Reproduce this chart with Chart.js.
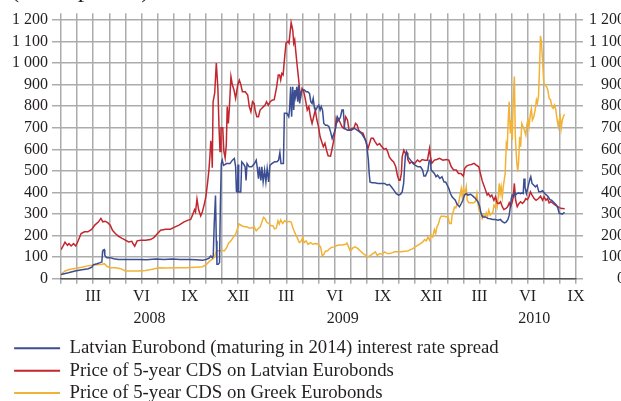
<!DOCTYPE html>
<html><head><meta charset="utf-8">
<script src="https://cdn.jsdelivr.net/npm/chart.js@4"></script>
<style>
html,body{margin:0;padding:0;background:#fff;overflow:hidden;width:621px;height:401px}
#wrap{position:absolute;left:0;top:-25px;width:625px;height:439px}
</style></head><body>
<div id="wrap"><canvas id="c"></canvas></div>
<script>
// time = months since 1 Jan 2008
const spreadT = [0,0.46,0.875,1.3,1.7,1.92,2.0,2.23,2.44,2.54,2.58,2.62,2.69,2.72,2.78,2.85,3.06,3.27,3.58,4.0,4.83,5.3,5.9,6.4,6.9,7.4,7.96,8.4,8.8,9.04,9.19,9.31,9.4,9.46,9.52,9.6,9.65,9.69,9.77,9.85,9.9,9.96,10.02,10.1,10.29,10.5,10.65,10.77,10.85,10.9,10.96,11.0,11.04,11.17,11.23,11.33,11.44,11.5,11.56,11.69,11.85,12.02,12.13,12.19,12.27,12.33,12.42,12.48,12.56,12.65,12.73,12.81,12.9,12.98,13.1,13.27,13.42,13.52,13.6,13.67,13.77,13.82,13.88,14.04,14.15,14.2,14.27,14.33,14.4,14.46,14.52,14.58,14.65,14.71,14.77,14.83,14.9,14.98,15.13,15.23,15.33,15.44,15.52,15.6,15.67,15.75,15.83,15.94,16.02,16.1,16.17,16.25,16.33,16.44,16.54,16.65,16.75,16.85,16.96,17.06,17.17,17.27,17.37,17.46,17.54,17.62,17.8,17.93,18.08,18.24,18.4,18.55,18.7,18.86,18.97,19.03,19.1,19.15,19.2,19.32,19.48,19.7,19.9,20.1,20.27,20.4,20.56,20.68,20.83,20.98,21.1,21.2,21.29,21.35,21.4,21.47,21.55,21.72,21.87,22.0,22.18,22.34,22.47,22.55,22.65,22.8,22.88,22.95,23.0,23.1,23.2,23.3,23.4,23.54,23.67,23.8,23.9,24.0,24.1,24.2,24.3,24.4,24.5,24.6,24.76,24.87,24.97,25.07,25.18,25.28,25.45,25.6,25.75,25.9,26.0,26.1,26.2,26.38,26.52,26.67,26.83,27.0,27.15,27.3,27.42,27.56,27.67,27.77,27.85,27.92,27.98,28.04,28.13,28.19,28.25,28.33,28.44,28.54,28.65,28.72,28.77,28.83,28.92,29.02,29.13,29.19,29.27,29.38,29.48,29.58,29.69,29.79,29.92,30.06,30.17,30.27,30.38,30.48,30.58,30.69,30.79,30.88,30.96,31.04,31.15,31.25,31.3];
const spreadV = [20,28,36,42,47,54,65,70,75,78,125,133,135,110,102,98,98,93,90,89,89,88,92,90,92,90,90,88,86,90,95,106,98,106,254,386,176,67,67,75,332,534,550,526,534,534,550,558,520,405,402,530,402,402,542,534,519,456,534,519,519,534,550,519,464,519,456,519,449,503,449,511,449,526,534,542,542,550,585,534,534,534,767,767,751,782,890,751,890,782,875,844,890,821,898,813,859,875,875,867,867,859,821,813,836,790,782,798,805,782,798,782,720,712,712,705,681,650,674,697,751,736,751,782,782,697,689,689,697,697,689,681,671,651,635,596,550,488,449,445,445,442,442,442,434,438,423,411,395,388,392,403,442,519,573,589,565,550,535,527,519,519,504,476,476,504,550,550,504,496,488,473,480,465,473,449,449,434,418,395,380,372,364,346,334,349,364,388,395,388,392,383,372,358,340,303,287,287,280,278,275,275,272,275,265,259,264,275,295,334,372,388,380,398,388,395,398,395,398,395,465,426,395,426,460,473,442,434,426,434,403,403,408,395,388,380,367,364,357,349,341,326,303,303,300,306,306];

const cdsLvT = [0,0.15,0.25,0.4,0.5,0.625,0.78,0.92,1.08,1.25,1.46,1.67,1.92,2.1,2.33,2.48,2.6,2.75,2.9,3.06,3.2,3.375,3.58,3.8,4.0,4.2,4.4,4.5,4.58,4.73,4.94,5.25,5.56,5.77,6.0,6.19,6.5,6.8,7.02,7.33,7.65,7.9,8.06,8.17,8.3,8.36,8.45,8.55,8.68,8.78,8.9,9.0,9.1,9.19,9.25,9.31,9.36,9.4,9.45,9.55,9.65,9.75,9.82,9.88,9.94,10.05,10.12,10.2,10.27,10.33,10.4,10.46,10.56,10.65,10.75,10.85,10.98,11.08,11.18,11.27,11.45,11.6,11.7,11.8,11.9,12.0,12.06,12.17,12.27,12.37,12.48,12.58,12.68,12.77,12.88,13.0,13.12,13.25,13.4,13.5,13.58,13.65,13.72,13.8,13.9,13.98,14.1,14.17,14.23,14.3,14.4,14.46,14.52,14.6,14.66,14.77,14.83,14.9,14.98,15.06,15.15,15.23,15.3,15.4,15.5,15.6,15.7,15.8,15.9,16.0,16.1,16.2,16.3,16.4,16.5,16.6,16.75,16.85,16.95,17.05,17.1,17.17,17.25,17.35,17.46,17.58,17.69,17.8,17.9,18.04,18.19,18.3,18.4,18.5,18.6,18.77,18.88,18.98,19.08,19.17,19.27,19.4,19.52,19.65,19.8,19.9,20.07,20.2,20.3,20.4,20.55,20.67,20.8,20.9,21.0,21.07,21.15,21.2,21.3,21.4,21.5,21.55,21.67,21.8,21.98,22.15,22.3,22.44,22.6,22.77,22.9,22.96,23.04,23.2,23.35,23.52,23.73,23.94,24.1,24.25,24.4,24.56,24.7,24.85,25.0,25.08,25.2,25.33,25.5,25.67,25.8,25.96,26.06,26.17,26.27,26.38,26.48,26.56,26.67,26.77,26.9,27.0,27.1,27.21,27.31,27.42,27.52,27.65,27.75,27.85,27.94,28.04,28.1,28.17,28.25,28.35,28.46,28.56,28.67,28.77,28.88,28.98,29.08,29.17,29.27,29.4,29.52,29.67,29.8,29.92,30.02,30.13,30.23,30.33,30.44,30.58,30.71,30.83,30.96,31.1,31.2,31.3];
const cdsLvV = [135,155,170,155,163,152,163,152,179,210,218,218,230,249,264,280,264,267,260,249,225,210,197,187,179,171,174,160,151,176,179,179,182,191,210,225,230,230,238,249,264,272,275,295,320,310,370,320,292,310,345,380,440,503,565,640,600,515,820,860,1000,880,700,590,700,700,590,560,620,798,720,790,937,898,875,836,898,921,898,867,867,852,798,774,821,813,782,751,751,782,790,798,805,821,805,821,828,830,890,945,945,921,952,945,1030,1092,1100,1092,1138,1188,1153,1092,1107,1045,999,921,875,844,883,875,844,813,782,798,751,720,751,782,736,705,658,635,612,628,596,570,568,605,643,700,743,728,739,723,705,697,751,736,689,689,697,720,713,689,681,674,651,627,604,627,651,651,635,620,627,615,600,604,589,565,550,542,519,480,457,457,488,565,596,581,584,553,535,542,535,550,542,553,550,550,604,565,535,550,553,558,550,553,550,519,504,504,488,488,476,511,522,527,530,535,527,519,488,455,434,411,388,395,380,388,364,380,352,349,357,334,321,326,334,352,334,357,380,442,364,334,349,357,349,357,372,367,380,403,388,372,364,372,383,364,380,364,372,352,357,349,341,337,330,326,326,324];

const cdsGrT = [0,0.25,0.56,0.875,1.3,1.7,2.1,2.54,2.7,2.85,3.06,3.4,3.7,4.0,4.4,4.83,5.25,5.67,6.08,6.5,7.1,7.75,8.4,8.8,9.04,9.25,9.4,9.52,9.67,9.81,9.98,10.15,10.3,10.4,10.56,10.7,10.85,10.96,11.06,11.23,11.4,11.54,11.69,11.85,12.0,12.13,12.23,12.38,12.48,12.58,12.69,12.79,12.94,13.06,13.17,13.27,13.38,13.48,13.56,13.65,13.77,13.9,14.04,14.19,14.31,14.4,14.52,14.67,14.81,14.94,15.02,15.1,15.23,15.35,15.5,15.65,15.81,15.98,16.13,16.23,16.33,16.44,16.55,16.65,16.8,16.96,17.1,17.27,17.48,17.69,17.77,17.87,17.97,18.14,18.28,18.45,18.6,18.78,18.93,19.07,19.24,19.38,19.53,19.65,19.8,19.94,20.1,20.27,20.42,20.56,20.73,20.93,21.14,21.35,21.55,21.72,21.87,22.0,22.18,22.34,22.48,22.59,22.7,22.8,22.9,23.0,23.1,23.2,23.28,23.36,23.46,23.54,23.62,23.73,23.83,23.94,24.04,24.14,24.25,24.3,24.4,24.45,24.54,24.62,24.7,24.78,24.87,24.93,25.0,25.1,25.18,25.24,25.34,25.5,25.65,25.76,25.84,25.92,26.0,26.1,26.17,26.25,26.33,26.42,26.5,26.58,26.67,26.75,26.83,26.9,26.96,27.04,27.1,27.17,27.23,27.29,27.35,27.42,27.48,27.54,27.6,27.67,27.73,27.79,27.85,27.92,27.98,28.04,28.1,28.17,28.23,28.31,28.38,28.44,28.5,28.56,28.63,28.71,28.79,28.88,28.96,29.02,29.08,29.17,29.23,29.29,29.38,29.46,29.54,29.6,29.67,29.73,29.79,29.85,29.92,30.0,30.08,30.17,30.25,30.33,30.42,30.5,30.58,30.67,30.75,30.83,30.9,30.96,31.02,31.08,31.15,31.21,31.29];
const cdsGrV = [20,36,44,48,54,61,64,67,70,58,51,51,47,36,36,36,39,44,51,50,51,51,54,56,67,83,90,98,132,129,132,129,145,164,176,192,207,231,254,246,241,241,235,235,241,223,231,241,262,285,277,262,254,246,246,231,235,269,254,273,257,269,262,266,262,238,215,192,168,176,192,168,176,160,168,160,164,160,148,106,114,129,129,137,145,148,153,157,157,160,166,148,129,143,148,140,129,117,109,101,109,117,125,109,117,114,125,117,117,120,125,125,125,128,129,135,140,148,156,163,171,182,176,194,179,202,194,228,210,241,256,279,290,290,290,287,290,256,256,294,318,333,330,349,349,380,418,380,418,395,426,364,352,352,352,360,395,341,310,303,280,295,287,306,287,318,295,303,306,341,334,352,334,380,442,395,426,380,426,457,488,627,612,736,821,674,736,643,829,937,658,550,496,550,658,612,720,705,689,666,720,736,705,767,790,736,751,782,829,813,844,968,1126,1100,1014,906,898,890,875,836,829,798,790,805,782,736,705,736,751,697,736,751,762];

const seriesNames = ['Latvian Eurobond (maturing in 2014) interest rate spread','Price of 5-year CDS on Latvian Eurobonds','Price of 5-year CDS on Greek Eurobonds'];
const monthNames = ['','','III','','','VI','','','IX','','','XII'];
const monthTicks = Array.from({length:33},(_,i)=>i);
const yearLabels = ['2008','2009','2010'];
const yearTicks = [5.5,17.5,29.4];
const yTicks = [0,100,200,300,400,500,600,700,800,900,1000,1100,1200];

const FONT = 'Liberation Serif, Times New Roman, serif';
const TXT = '#231f20';
const GRID = '#acacac';
const pts = (t,v) => t.map((x,i)=>({x:x,y:v[i]}));
const fmt = v => v >= 1000 ? Math.floor(v/1000)+' '+String(v%1000).padStart(3,'0') : String(v);

new Chart(document.getElementById('c'), {
  type:'line',
  data:{datasets:[
    {label:seriesNames[0],data:pts(spreadT,spreadV),borderColor:'#3c4e92',backgroundColor:'#3c4e92'},
    {label:seriesNames[1],data:pts(cdsLvT,cdsLvV),borderColor:'#c3262e',backgroundColor:'#c3262e'},
    {label:seriesNames[2],data:pts(cdsGrT,cdsGrV),borderColor:'#f2b236',backgroundColor:'#f2b236'}
  ]},
  options:{
    responsive:true, maintainAspectRatio:false, animation:false, devicePixelRatio:1,
    elements:{line:{borderWidth:1.5,tension:0,fill:false},point:{radius:0}},
    layout:{padding:{left:10.5,right:0,top:0,bottom:1.5}},
    plugins:{
      tooltip:{enabled:false},
      title:{display:true,text:'(basis points)',align:'start',color:TXT,font:{family:FONT,size:26,weight:'normal'},padding:{top:0,bottom:7}},
      legend:{position:'bottom',align:'start',
        labels:{color:TXT,font:{family:FONT,size:18.8},boxWidth:46,boxHeight:2,padding:3.6,
          generateLabels:(chart)=>Chart.defaults.plugins.legend.labels.generateLabels(chart).map(it=>{it.lineWidth=0;it.fillStyle=it.strokeStyle;return it;})}}
    },
    scales:{
      x:{type:'linear',position:'bottom',min:0,max:32,
        afterBuildTicks:s=>{s.ticks=monthTicks.map(v=>({value:v}));},
        afterFit:s=>{s.height=28;},
        ticks:{autoSkip:false,maxRotation:0,padding:3.6,color:TXT,font:{family:FONT,size:16},callback:v=>monthNames[((v%12)+12)%12]},
        grid:{color:GRID,lineWidth:1.5,tickLength:5,drawTicks:true},
        border:{display:true,color:'#555',width:1.5}},
      x2:{type:'linear',position:'bottom',min:0,max:32,
        afterBuildTicks:s=>{s.ticks=yearTicks.map(v=>({value:v}));},
        afterFit:s=>{s.height=28.5;},
        ticks:{autoSkip:false,maxRotation:0,padding:2,color:TXT,font:{family:FONT,size:16},callback:(v,i)=>yearLabels[i]},
        grid:{display:false,drawTicks:false},border:{display:false}},
      y:{type:'linear',position:'left',min:0,max:1231,
        afterBuildTicks:s=>{s.ticks=yTicks.map(v=>({value:v}));},
        afterFit:s=>{s.width=50.5;},
        ticks:{autoSkip:false,padding:4,color:TXT,font:{family:FONT,size:16},callback:v=>fmt(v)},
        grid:{color:GRID,lineWidth:1.5,tickLength:9},border:{display:false}},
      y1:{type:'linear',position:'right',min:0,max:1231,
        afterBuildTicks:s=>{s.ticks=yTicks.map(v=>({value:v}));},
        afterFit:s=>{s.width=49;},
        ticks:{autoSkip:false,padding:6,crossAlign:'far',color:TXT,font:{family:FONT,size:16},callback:v=>fmt(v)},
        grid:{drawOnChartArea:false,color:GRID,lineWidth:1.5,tickLength:7},border:{display:false}}
    }
  }
});
</script></body></html>
